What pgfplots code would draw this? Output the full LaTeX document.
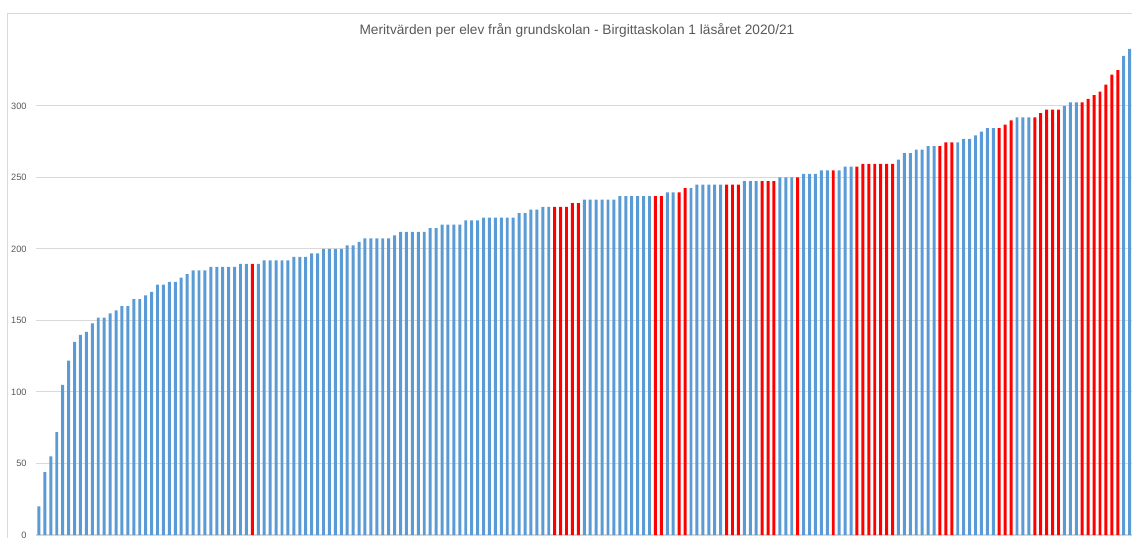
\documentclass[border=0pt]{standalone}
\usepackage{pgfplots}
\pgfplotsset{compat=1.18}
\usepackage{fontspec}
\setmainfont{Liberation Sans}
\definecolor{xlblue}{RGB}{91,155,213}
\definecolor{xlred}{RGB}{255,0,0}
\definecolor{txtgray}{RGB}{89,89,89}
\definecolor{gridgray}{RGB}{217,217,217}
\begin{document}
\begin{tikzpicture}
\path[use as bounding box] (0pt,0pt) rectangle (566pt,-269pt);
\draw[gridgray, line width=0.5pt] (3.5pt,-269pt) -- (3.5pt,-6.5pt) -- (566pt,-6.5pt);
\node[txtgray, font=\fontsize{6.85}{8}\selectfont] at (288.5pt,-15pt) {Meritvärden per elev från grundskolan - Birgittaskolan 1 läsåret 2020/21};
\begin{axis}[
  at={(18pt,-267.5pt)}, anchor=south west,
  scale only axis, width=548pt, height=246.7pt,
  xmin=0.5, xmax=185.4, ymin=0, ymax=345,
  axis x line*=bottom, axis y line*=left,
  y axis line style={draw=none},
  x axis line style={draw=gridgray, line width=0.6pt},
  xtick=\empty, ytick={0,50,...,300},
  major tick length=0pt,
  ymajorgrids, grid style={draw=gridgray, line width=0.5pt},
  /pgf/number format/assume math mode=true,
  yticklabel style={font=\fontsize{4.6}{5.5}\selectfont, text=txtgray, inner sep=0pt, xshift=-4.5pt},
  clip=false,
]
\addplot[ybar, bar width=0.5, bar shift=0pt, fill=xlblue, draw=none] coordinates {
(1,20)(2,44)(3,55)(4,72)(5,105)(6,122)(7,135)(8,140)(9,142)(10,148)(11,152)(12,152)(13,155)(14,157)(15,160)(16,160)(17,165)(18,165)(19,167.5)(20,170)(21,175)(22,175)(23,177)(24,177)(25,180)(26,182.5)(27,185)(28,185)(29,185)(30,187.5)(31,187.5)(32,187.5)(33,187.5)(34,187.5)(35,189.5)(36,189.5)(38,189.5)(39,192)(40,192)(41,192)(42,192)(43,192)(44,194.5)(45,194.5)(46,194.5)(47,197)(48,197)(49,200)(50,200)(51,200)(52,200)(53,202.5)(54,202.5)(55,205)(56,207.5)(57,207.5)(58,207.5)(59,207.5)(60,207.5)(61,209.5)(62,212)(63,212)(64,212)(65,212)(66,212)(67,214.5)(68,214.5)(69,217)(70,217)(71,217)(72,217)(73,220)(74,220)(75,220)(76,222)(77,222)(78,222)(79,222)(80,222)(81,222)(82,225)(83,225)(84,227.5)(85,227.5)(86,229.5)(87,229.5)
(93,234.5)(94,234.5)(95,234.5)(96,234.5)(97,234.5)(98,234.5)(99,237)(100,237)(101,237)(102,237)(103,237)(104,237)(107,239.5)(108,239.5)(111,242.5)(112,245)(113,245)(114,245)(115,245)(116,245)(120,247.5)(121,247.5)(122,247.5)(126,250)(127,250)(128,250)(130,252.5)(131,252.5)(132,252.5)(133,255)(134,255)(136,255)(137,257.5)(138,257.5)(146,262.5)(147,267)(148,267)(149,269.5)(150,269.5)(151,272)(152,272)(156,274.5)(157,277)(158,277)(159,279.5)(160,282)(161,284.5)(162,284.5)(166,292)(167,292)(168,292)(174,300)(175,302.5)(176,302.5)(184,335)(185,340)
};
\addplot[ybar, bar width=0.5, bar shift=0pt, fill=xlred, draw=none] coordinates {
(37,189.5)(88,229.5)(89,229.5)(90,229.5)(91,232)(92,232)(105,237)(106,237)(109,239.5)(110,242.5)(117,245)(118,245)(119,245)(123,247.5)(124,247.5)(125,247.5)(129,250)(135,255)(139,257.5)(140,259.5)(141,259.5)(142,259.5)(143,259.5)(144,259.5)(145,259.5)(153,272)(154,274.5)(155,274.5)(163,284.5)(164,287)(165,290)(169,292)(170,295)(171,297.5)(172,297.5)(173,297.5)(177,302.5)(178,305)(179,307.5)(180,310)(181,315)(182,322)(183,325)
};
\end{axis}
\end{tikzpicture}
\end{document}
